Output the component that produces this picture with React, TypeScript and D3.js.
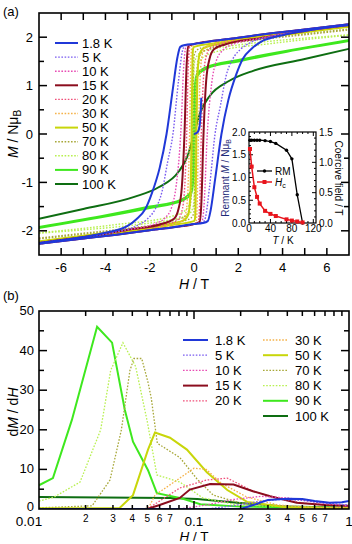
import React from "react";
import * as d3 from "d3";

const FONT = "Liberation Sans, Arial, Helvetica, sans-serif";

// ---------- shared series styling data ----------
const tempLabels = ["1.8 K", "5 K", "10 K", "15 K", "20 K", "30 K", "50 K", "70 K", "80 K", "90 K", "100 K"];
const colors = ["#2038d8", "#7a5cf0", "#e84cb4", "#8b0d1e", "#f0507a", "#f5b24a", "#c8d60a", "#a8a83a", "#b8f050", "#3ee81e", "#0e6e12"];
const dotted = [false, true, true, false, true, true, false, true, true, false, false];

// ---------- panel (a): upper (descending) branch [H (T), M (NμB)] ----------
const loop1_8 = [[-7, -2.25], [-5, -2.13], [-4, -2.04], [-3, -1.9], [-2.6, -1.76], [-2.2, -1.55], [-1.9, -1.22], [-1.55, -0.7], [-1.24, 0], [-0.95, 0.95], [-0.75, 1.58], [-0.62, 1.8], [-0.4, 1.84], [0, 1.86], [1, 1.93], [2, 1.99], [3.5, 2.08], [5, 2.16], [7, 2.27]];
const loop5 = [[-7, -2.25], [-5, -2.13], [-3.5, -2.02], [-2.6, -1.9], [-2.1, -1.75], [-1.75, -1.55], [-1.45, -1.2], [-1.2, -0.6], [-0.95, 0], [-0.7, 1.1], [-0.52, 1.72], [-0.42, 1.82], [0, 1.86], [1, 1.93], [2, 1.99], [3.5, 2.08], [5, 2.16], [7, 2.27]];
const loop10 = [[-7, -2.25], [-5, -2.13], [-3, -1.98], [-1.8, -1.86], [-1.3, -1.73], [-1.0, -1.5], [-0.8, -1.05], [-0.6, 0], [-0.45, 1.5], [-0.35, 1.82], [0, 1.86], [1, 1.93], [2, 1.99], [3.5, 2.08], [5, 2.16], [7, 2.27]];
const loop15 = [[-7, -2.25], [-5, -2.13], [-3, -1.98], [-1.4, -1.85], [-0.9, -1.75], [-0.7, -1.55], [-0.55, -1.1], [-0.43, 0], [-0.33, 1.45], [-0.25, 1.82], [0, 1.86], [1, 1.93], [2, 1.99], [3.5, 2.08], [5, 2.16], [7, 2.27]];
const loop20 = [[-7, -2.25], [-5, -2.13], [-3, -1.98], [-1.2, -1.86], [-0.75, -1.78], [-0.55, -1.6], [-0.42, -1.1], [-0.33, 0], [-0.25, 1.5], [-0.18, 1.83], [0, 1.86], [1, 1.93], [2, 1.99], [3.5, 2.08], [5, 2.16], [7, 2.27]];
const loop30 = [[-7, -2.25], [-5, -2.13], [-3, -1.98], [-1, -1.87], [-0.55, -1.8], [-0.38, -1.65], [-0.28, -1.2], [-0.2, 0], [-0.14, 1.5], [-0.09, 1.83], [0, 1.85], [1, 1.92], [2, 1.98], [3.5, 2.07], [5, 2.15], [7, 2.26]];
const loop50 = [[-7, -2.22], [-5, -2.1], [-3, -1.98], [-1, -1.85], [-0.45, -1.78], [-0.25, -1.65], [-0.16, -1.2], [-0.11, 0], [-0.07, 1.5], [-0.04, 1.76], [0, 1.8], [1, 1.88], [2, 1.95], [3.5, 2.05], [5, 2.13], [7, 2.22]];
const loop70 = [[-7, -2.15], [-5, -2.05], [-3, -1.95], [-1, -1.8], [-0.4, -1.7], [-0.18, -1.5], [-0.1, -1.0], [-0.06, 0], [-0.03, 1.1], [0, 1.62], [0.15, 1.74], [0.5, 1.8], [1, 1.85], [2, 1.92], [3.5, 2.0], [5, 2.07], [7, 2.17]];
const loop80 = [[-7, -2.04], [-5, -1.95], [-3.5, -1.87], [-1, -1.7], [-0.4, -1.58], [-0.15, -1.35], [-0.08, -0.9], [-0.04, 0], [-0.02, 0.8], [0, 1.41], [0.1, 1.58], [0.3, 1.68], [1, 1.77], [2, 1.84], [3.5, 1.92], [5, 1.98], [7, 2.05]];
const loop90 = [[-7, -1.92], [-4.2, -1.7], [-2, -1.5], [-0.6, -1.36], [-0.15, -1.2], [-0.06, -0.8], [-0.03, 0], [0, 0.62], [0.05, 1.05], [0.15, 1.25], [0.5, 1.37], [2, 1.53], [4.2, 1.72], [7, 1.94]];
const loop100 = [[-7, -1.75], [-5, -1.55], [-2.7, -1.3], [-1.6, -1.1], [-0.7, -0.78], [-0.27, -0.43], [0, 0], [0.27, 0.43], [0.7, 0.78], [1.6, 1.1], [2.7, 1.31], [5, 1.55], [7, 1.76]];
const virgin1_8 = [[0, 0], [0.15, 0.03], [0.25, 0.15], [0.3, 0.45], [0.33, 0.75]];
const loops = [loop1_8, loop5, loop10, loop15, loop20, loop30, loop50, loop70, loop80, loop90, loop100];

const xTicksA = [-6, -4, -2, 0, 2, 4, 6];
const yTicksA = [-2, -1, 0, 1, 2];

// ---------- inset ----------
const insetT = [1.8, 5, 10, 15, 20, 30, 40, 50, 70, 80, 90, 100];
const insetRM = [1.82, 1.82, 1.82, 1.82, 1.82, 1.81, 1.79, 1.75, 1.6, 1.41, 0.62, 0.0];
const insetHc = [1.22, 0.93, 0.59, 0.43, 0.32, 0.2, 0.15, 0.115, 0.06, 0.04, 0.025, 0.01];
const insetXTicks = [0, 40, 80, 120];
const insetYLTicks = [0, 0.5, 1, 1.5, 2];
const insetYRTicks = [0, 0.5, 1, 1.5];

// ---------- panel (b): [H (T), dM/dH] ----------
const d1_8 = [[0.01, 0], [0.2, 0], [0.25, 1.2], [0.3, 2.3], [0.4, 2.6], [0.5, 2.5], [0.6, 2.0], [0.75, 1.6], [0.9, 1.7], [1, 2.0]];
const d5 = [[0.01, 0], [0.12, 0], [0.18, 0.8], [0.25, 1.8], [0.35, 2.4], [0.5, 2.2], [0.7, 1.5], [1, 1.0]];
const d10 = [[0.01, 0], [0.08, 0], [0.12, 1.0], [0.18, 2.4], [0.27, 3.2], [0.4, 2.8], [0.6, 1.7], [1, 0.8]];
const d15 = [[0.01, 0], [0.05, 0], [0.06, 1.0], [0.081, 2.8], [0.094, 4.9], [0.127, 6.3], [0.18, 6.2], [0.24, 4.5], [0.31, 3.2], [0.46, 1.6], [0.7, 1.0], [1, 0.8]];
const d20 = [[0.01, 0], [0.05, 0], [0.06, 2.0], [0.081, 5.3], [0.12, 7.3], [0.164, 7.8], [0.24, 4.5], [0.34, 2.8], [0.5, 1.5], [1, 0.6]];
const d30 = [[0.01, 0], [0.048, 0], [0.052, 1.0], [0.056, 3.5], [0.081, 7.8], [0.1, 10.3], [0.12, 10.0], [0.15, 6.5], [0.22, 3.0], [0.35, 1.0], [0.6, 0.4], [1, 0.3]];
const d50 = [[0.01, 0.2], [0.033, 0.2], [0.0404, 3.5], [0.0505, 15], [0.056, 19.3], [0.07, 18], [0.09, 15], [0.121, 9.3], [0.164, 4.8], [0.22, 1.8], [0.4, 0.4], [1, 0.2]];
const d70 = [[0.01, 0.3], [0.022, 0.8], [0.0287, 7.3], [0.034, 20], [0.0386, 35], [0.041, 38], [0.046, 38], [0.0505, 32], [0.053, 28], [0.058, 16.6], [0.081, 13], [0.105, 7.5], [0.133, 3.5], [0.2, 1.5], [0.4, 0.6], [1, 0.3]];
const d80 = [[0.01, 2.0], [0.0125, 3.0], [0.0184, 6.8], [0.025, 20], [0.029, 35], [0.0348, 42], [0.042, 36], [0.05, 22], [0.0576, 8.6], [0.081, 6.8], [0.114, 2.8], [0.19, 1.0], [0.5, 0.5], [1, 0.3]];
const d90 = [[0.01, 6.0], [0.0123, 7.8], [0.0163, 22.5], [0.0237, 46], [0.0296, 42], [0.0358, 25], [0.0404, 17], [0.0505, 9.8], [0.0576, 4.0], [0.081, 2.8], [0.11, 1.2], [0.2, 0.6], [1, 0.3]];
const d100 = [[0.01, 3.0], [0.07, 2.8], [0.105, 2.5], [0.19, 1.6], [0.4, 0.6], [1, 0.3]];
const derivs = [d1_8, d5, d10, d15, d20, d30, d50, d70, d80, d90, d100];

const yTicksB = [0, 10, 20, 30, 40, 50];
const xMajorB = [0.01, 0.1, 1];
const xMajorLabels = ["0.01", "0.1", "1"];
const xMinorB = [2, 3, 4, 5, 6, 7, 8, 9];
const xMinorLabels = ["2", "3", "4", "5", "6", "7"];

export default function App() {
  // ----- panel (a) scales -----
  const xA = d3.scaleLinear().domain([-7, 7]).range([39, 349]);
  const yA = d3.scaleLinear().domain([-2.5, 2.5]).range([255, 13]);
  const lineA = d3.line<number[]>().x((d) => xA(d[0])).y((d) => yA(d[1])).curve(d3.curveMonotoneX);

  // ----- inset scales -----
  const xI = d3.scaleLinear().domain([0, 125]).range([249, 316]);
  const yIL = d3.scaleLinear().domain([0, 2]).range([223, 132]);
  const yIR = d3.scaleLinear().domain([0, 1.5]).range([223, 132]);
  const rmLine = d3.line<number>().x((_, i) => xI(insetT[i])).y((d) => yIL(d));
  const hcLine = d3.line<number>().x((_, i) => xI(insetT[i])).y((d) => yIR(d));

  // ----- panel (b) scales -----
  const xB = d3.scaleLog().domain([0.01, 1]).range([39, 349]);
  const yB = d3.scaleLinear().domain([0, 50]).range([509, 311]);
  const lineB = d3.line<number[]>().x((d) => xB(d[0])).y((d) => yB(d[1]));

  const [ax0, ax1] = xA.range();
  const [ay0, ay1] = [yA(2.5), yA(-2.5)];
  const [bx0, bx1] = xB.range();
  const [by0, by1] = [yB(50), yB(0)];

  const tickA: JSX.Element[] = [];
  for (let h = -6; h <= 6; h++) {
    tickA.push(<line key={"ab" + h} x1={xA(h)} x2={xA(h)} y1={ay1} y2={ay1 - 7} />);
    tickA.push(<line key={"at" + h} x1={xA(h)} x2={xA(h)} y1={ay0} y2={ay0 + 7} />);
  }
  for (let m = -2; m <= 2; m += 0.5) {
    const len = Number.isInteger(m) ? 8 : 5;
    tickA.push(<line key={"al" + m} x1={ax0} x2={ax0 + len} y1={yA(m)} y2={yA(m)} />);
    tickA.push(<line key={"ar" + m} x1={ax1} x2={ax1 - len} y1={yA(m)} y2={yA(m)} />);
  }

  const tickB: JSX.Element[] = [];
  for (let v = 5; v < 50; v += 5) {
    const len = v % 10 === 0 ? 8 : 5;
    tickB.push(<line key={"bl" + v} x1={bx0} x2={bx0 + len} y1={yB(v)} y2={yB(v)} />);
    tickB.push(<line key={"br" + v} x1={bx1} x2={bx1 - len} y1={yB(v)} y2={yB(v)} />);
  }
  [0.01, 0.1].forEach((dec) => {
    xMinorB.forEach((k) => {
      const x = xB(dec * k);
      tickB.push(<line key={"bb" + dec + k} x1={x} x2={x} y1={by1} y2={by1 - 4} />);
      tickB.push(<line key={"bt" + dec + k} x1={x} x2={x} y1={by0} y2={by0 + 5} />);
    });
  });
  tickB.push(<line key="bb01" x1={xB(0.1)} x2={xB(0.1)} y1={by1} y2={by1 - 8} />);
  tickB.push(<line key="bt01" x1={xB(0.1)} x2={xB(0.1)} y1={by0} y2={by0 + 8} />);

  const tickI: JSX.Element[] = [];
  for (let t = 10; t < 125; t += 10) {
    const len = t % 40 === 0 ? 4 : 2;
    tickI.push(<line key={"ib" + t} x1={xI(t)} x2={xI(t)} y1={223} y2={223 - len} />);
    tickI.push(<line key={"it" + t} x1={xI(t)} x2={xI(t)} y1={132} y2={132 + len} />);
  }
  for (let k = 1; k < 20; k++) {
    const v = k * 0.1;
    const len = k % 5 === 0 ? 4 : 2;
    tickI.push(<line key={"il" + k} x1={249} x2={249 + len} y1={yIL(v)} y2={yIL(v)} />);
  }
  for (let k = 1; k < 15; k++) {
    const v = k * 0.1;
    const len = k % 5 === 0 ? 4 : 2;
    tickI.push(<line key={"ir" + k} x1={316} x2={316 - len} y1={yIR(v)} y2={yIR(v)} />);
  }

  const lowerBranch = (pts: number[][]) => pts.map(([h, m]) => [-h, -m]).reverse();

  return (
    <svg width={352} height={544} style={{ position: "absolute", left: 0, top: 0, background: "#fff" }} fontFamily={FONT}>
      <defs>
        <clipPath id="clipA"><rect x={ax0} y={ay0} width={ax1 - ax0} height={ay1 - ay0} /></clipPath>
        <clipPath id="clipB"><rect x={bx0} y={by0} width={bx1 - bx0} height={by1 - by0} /></clipPath>
      </defs>

      {/* ================= panel (a) ================= */}
      <text x={3} y={16} fontSize={13}>(a)</text>
      <g clipPath="url(#clipA)" fill="none">
        {loops.map((pts, i) => {
          const style = { stroke: colors[i], strokeWidth: dotted[i] ? 1.4 : 2, strokeDasharray: dotted[i] ? "1.6,1.6" : undefined };
          const lower = lowerBranch(pts);
          return (
            <g key={"loop" + i}>
              <path d={lineA(pts) || ""} {...style} />
              {i < 10 && <path d={lineA(lower) || ""} {...style} />}
            </g>
          );
        }).reverse()}
        <path d={lineA(virgin1_8) || ""} stroke={colors[0]} strokeWidth={2} />
      </g>
      <g stroke="#000" strokeWidth={1.5}>{tickA}</g>
      <rect x={ax0} y={ay0} width={ax1 - ax0} height={ay1 - ay0} fill="none" stroke="#000" strokeWidth={1.6} />
      {xTicksA.map((t) => (
        <text key={"xa" + t} x={xA(t)} y={272} fontSize={13} textAnchor="middle">{t}</text>
      ))}
      {yTicksA.map((t) => (
        <text key={"ya" + t} x={33} y={yA(t) + 4.5} fontSize={13} textAnchor="end">{t}</text>
      ))}
      <text x={194} y={289} fontSize={14} textAnchor="middle"><tspan fontStyle="italic">H</tspan> / T</text>
      <text transform={`translate(18,${yA(0)}) rotate(-90)`} fontSize={14} textAnchor="middle">
        <tspan fontStyle="italic">M</tspan> / Nμ<tspan fontSize={10} dy={3}>B</tspan>
      </text>

      {/* legend (a) */}
      {tempLabels.map((lab, i) => (
        <g key={"lga" + i}>
          <line x1={55} x2={78} y1={43 + i * 14.1} y2={43 + i * 14.1} stroke={colors[i]} strokeWidth={dotted[i] ? 1.4 : 2} strokeDasharray={dotted[i] ? "1.6,1.6" : undefined} />
          <text x={82} y={43 + i * 14.1 + 4.5} fontSize={13}>{lab}</text>
        </g>
      ))}

      {/* inset */}
      <rect x={249} y={132} width={67} height={91} fill="#fff" stroke="#000" strokeWidth={1.2} />
      <g stroke="#000" strokeWidth={1}>{tickI}</g>
      <path d={rmLine(insetRM) || ""} fill="none" stroke="#000" strokeWidth={1.3} />
      {insetRM.map((v, i) => <circle key={"rm" + i} cx={xI(insetT[i])} cy={yIL(v)} r={1.7} fill="#000" />)}
      <path d={hcLine(insetHc) || ""} fill="none" stroke="#e8141c" strokeWidth={1.5} />
      {insetHc.map((v, i) => <rect key={"hc" + i} x={xI(insetT[i]) - 2} y={yIR(v) - 2} width={4} height={4} fill="#e8141c" />)}
      {insetXTicks.map((t) => <text key={"ix" + t} x={xI(t)} y={232} fontSize={10} textAnchor="middle">{t}</text>)}
      {insetYLTicks.map((t) => <text key={"iyl" + t} x={246} y={yIL(t) + 3.5} fontSize={10} textAnchor="end">{t.toFixed(1)}</text>)}
      {insetYRTicks.map((t) => <text key={"iyr" + t} x={319} y={yIR(t) + 3.5} fontSize={10}>{t.toFixed(1)}</text>)}
      <text x={283} y={244} fontSize={10} textAnchor="middle"><tspan fontStyle="italic">T</tspan> / K</text>
      <text transform="translate(229,178) rotate(-90)" fontSize={10} textAnchor="middle" fill="#1e2a78">
        Remnant <tspan fontStyle="italic">M</tspan> / Nμ<tspan fontSize={7} dy={2}>B</tspan>
      </text>
      <text transform="translate(335,178) rotate(90)" fontSize={10} textAnchor="middle">Coercive field / T</text>
      <line x1={257} x2={272} y1={171} y2={171} stroke="#000" strokeWidth={1.3} />
      <circle cx={264.5} cy={171} r={1.7} fill="#000" />
      <text x={275} y={174.5} fontSize={10}>RM</text>
      <line x1={257} x2={272} y1={182} y2={182} stroke="#e8141c" strokeWidth={1.5} />
      <rect x={262.5} y={180} width={4} height={4} fill="#e8141c" />
      <text x={275} y={185.5} fontSize={10}><tspan fontStyle="italic">H</tspan><tspan fontSize={7} dy={2}>c</tspan></text>

      {/* ================= panel (b) ================= */}
      <text x={3} y={300} fontSize={13}>(b)</text>
      <g clipPath="url(#clipB)" fill="none">
        {derivs.map((pts, i) => (
          <path key={"der" + i} d={lineB(pts) || ""} stroke={colors[i]} strokeWidth={dotted[i] ? 1.3 : 2} strokeDasharray={dotted[i] ? "1.6,1.6" : undefined} />
        )).reverse()}
      </g>
      <g stroke="#000" strokeWidth={1.5}>{tickB}</g>
      <rect x={bx0} y={by0} width={bx1 - bx0} height={by1 - by0} fill="none" stroke="#000" strokeWidth={1.6} />
      {yTicksB.map((t) => (
        <text key={"yb" + t} x={34} y={yB(t) + (t === 0 ? 1.5 : 4)} fontSize={13} textAnchor="end">{t}</text>
      ))}
      {xMajorB.map((t, i) => (
        <text key={"xbm" + t} x={xB(t) - (i === 0 ? 10 : 0)} y={525.5} fontSize={13.5} textAnchor="middle">{xMajorLabels[i]}</text>
      ))}
      {[0.01, 0.1].map((dec) =>
        xMinorLabels.map((lab) => (
          <text key={"xbn" + dec + lab} x={xB(dec * +lab)} y={522} fontSize={10} textAnchor="middle">{lab}</text>
        ))
      )}
      <text x={194} y={540.5} fontSize={13.5} textAnchor="middle"><tspan fontStyle="italic">H</tspan> / T</text>
      <text transform={`translate(18,${yB(25) + 2}) rotate(-90)`} fontSize={14} textAnchor="middle">
        d<tspan fontStyle="italic">M</tspan> / d<tspan fontStyle="italic">H</tspan>
      </text>

      {/* legend (b) */}
      {tempLabels.map((lab, i) => {
        const col = i < 5 ? 0 : 1;
        const row = i < 5 ? i : i - 5;
        const lx = col === 0 ? 183 : 263;
        const ly = 340 + row * 15.2;
        return (
          <g key={"lgb" + i}>
            <line x1={lx} x2={lx + 25} y1={ly} y2={ly} stroke={colors[i]} strokeWidth={dotted[i] ? 1.3 : 2} strokeDasharray={dotted[i] ? "1.6,1.6" : undefined} />
            <text x={lx + 32} y={ly + 4.5} fontSize={13}>{lab}</text>
          </g>
        );
      })}
    </svg>
  );
}
